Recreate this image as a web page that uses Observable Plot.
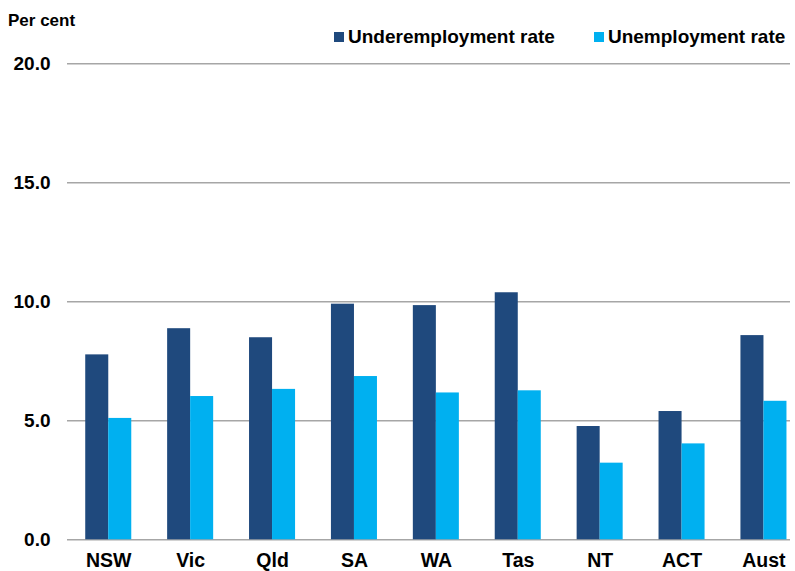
<!DOCTYPE html>
<html>
<head>
<meta charset="utf-8">
<script src="https://cdn.jsdelivr.net/npm/d3@7"></script>
<script src="https://cdn.jsdelivr.net/npm/@observablehq/plot@0.6"></script>
<style>
  body { margin: 0; background: #fff; }
  #wrap { position: relative; width: 795px; height: 571px; font-family: "Liberation Sans", Arial, sans-serif; }
  #unit { position: absolute; left: 8px; top: 11px; font-size: 17px; font-weight: bold; color: #000; line-height: 20px; white-space: nowrap; }
  #legend { position: absolute; left: 334px; top: 26px; width: 470px; display: flex; font-size: 19px; font-weight: bold; color: #000; line-height: 22px; white-space: nowrap; }
  #legend .item { display: flex; align-items: center; margin-right: 39px; flex: none; }
  #legend .sw { width: 10px; height: 10px; margin-right: 4px; flex: none; }
  svg { position: absolute; left: 0; top: 0; }
</style>
</head>
<body>
<div id="wrap">
  <div id="unit">Per cent</div>
  <div id="legend"></div>
</div>
<script>
const states = ["NSW", "Vic", "Qld", "SA", "WA", "Tas", "NT", "ACT", "Aust"];
const underemployment = [7.77, 8.87, 8.49, 9.90, 9.84, 10.38, 4.76, 5.39, 8.58];
const unemployment = [5.10, 6.02, 6.32, 6.86, 6.17, 6.26, 3.22, 4.03, 5.82];
const seriesNames = ["Underemployment rate", "Unemployment rate"];
const seriesColors = ["#1F497D", "#00B0F0"];
const yTicks = [0, 5, 10, 15, 20];

const rows = [];
states.forEach((s, i) => {
  rows.push({state: s, series: seriesNames[0], value: underemployment[i]});
  rows.push({state: s, series: seriesNames[1], value: unemployment[i]});
});

const legend = document.getElementById("legend");
seriesNames.forEach((n, i) => {
  const it = document.createElement("div");
  it.className = "item";
  it.innerHTML = `<div class="sw" style="background:${seriesColors[i]}"></div><span>${n}</span>`;
  legend.appendChild(it);
});

const chart = Plot.plot({
  width: 795,
  height: 571,
  marginTop: 63.3,
  marginBottom: 31.7,
  marginLeft: 67,
  marginRight: 5,
  style: {fontFamily: "'Liberation Sans', Arial, sans-serif", background: "transparent"},
  x: {domain: states, range: [67.3, 804.4], paddingInner: 0.438, paddingOuter: 0.219, round: false, label: null},
  y: {domain: [0, 20], label: null},
  color: {domain: seriesNames, range: seriesColors},
  marks: [
    Plot.ruleY(yTicks, {stroke: "#a6a6a6", strokeWidth: 1.5}),
    Plot.barY(rows.filter(d => d.series === seriesNames[0]), {x: "state", y: "value", fill: "series", insetRight: 23, insetLeft: 0}),
    Plot.barY(rows.filter(d => d.series === seriesNames[1]), {x: "state", y: "value", fill: "series", insetLeft: 23, insetRight: 0}),
    Plot.axisY({ticks: yTicks, tickFormat: d3.format(".1f"), tickSize: 0, tickPadding: 17, fontSize: 19, fontWeight: "bold", fill: "#000", label: null}),
    Plot.axisX({tickSize: 0, tickPadding: 13, fontSize: 19.5, fontWeight: "bold", fill: "#000", label: null})
  ]
});
document.getElementById("wrap").appendChild(chart);
</script>
</body>
</html>
